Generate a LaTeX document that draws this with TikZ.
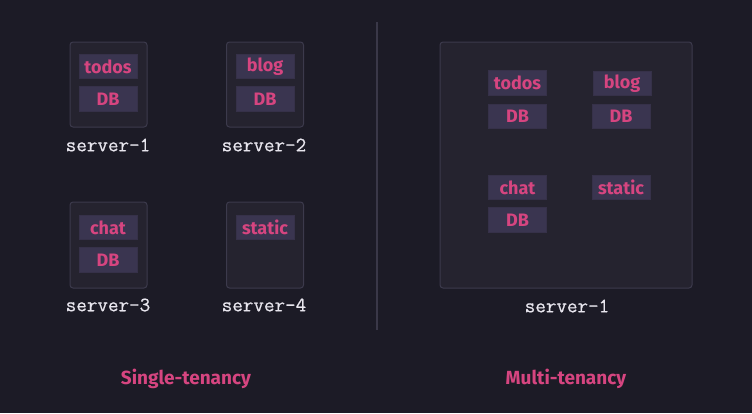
\documentclass[tikz,border=0pt]{standalone}
\usepackage{fontspec}
\setmainfont{Fira Sans}
\newfontfamily\srvfont{Latin Modern Mono}[FakeBold=0.6]
\definecolor{bgc}{HTML}{1C1B26}
\definecolor{srvfill}{HTML}{25232F}
\definecolor{srvline}{HTML}{3C3A4C}
\definecolor{appfill}{HTML}{3A3550}
\definecolor{pinkc}{HTML}{D64580}
\definecolor{labc}{HTML}{E8E6EE}
\definecolor{divc}{HTML}{3A3848}
\begin{document}
\begin{tikzpicture}[x=1pt,y=-1pt,
  server/.style={draw=srvline, line width=1pt, fill=srvfill, rounded corners=3pt, inner sep=0pt},
  app/.style={fill=appfill, draw=appfill!80!srvfill, line width=0.6pt, inner sep=0pt, minimum width=58pt, minimum height=24.5pt,
     text=pinkc, font=\fontsize{18}{18}\selectfont\bfseries},
  srvlabel/.style={text=labc, font=\fontsize{20.5}{21}\srvfont, inner sep=0pt},
  caption/.style={text=pinkc, font=\fontsize{19}{20}\selectfont\bfseries, inner sep=0pt}]
\fill[bgc] (0,0) rectangle (752,413);
\useasboundingbox (0,0) rectangle (752,413);
% single tenancy
\node[server, minimum width=77pt, minimum height=85pt] (s1) at (108.5,84.5) {};
\node[app] (s1a) at (108,66.5) {todos};
\node[app] (s1d) at (108,99) {DB};
\node[srvlabel] (s1l) at (108,145) {server-1};
\node[server, minimum width=77pt, minimum height=85pt] (s2) at (265,84.5) {};
\node[app] (s2a) at (265,66.5) {blog};
\node[app] (s2d) at (265,99) {DB};
\node[srvlabel] (s2l) at (264,145) {server-2};
\node[server, minimum width=77pt, minimum height=86pt] (s3) at (108.5,245) {};
\node[app] (s3a) at (108,227.5) {chat};
\node[app] (s3d) at (108,260) {DB};
\node[srvlabel] (s3l) at (108,305) {server-3};
\node[server, minimum width=77pt, minimum height=86pt] (s4) at (265,245) {};
\node[app] (s4a) at (265,227.5) {static};
\node[srvlabel] (s4l) at (264,305) {server-4};
% divider
\coordinate (dtop) at (377,22);
\coordinate (dbot) at (377,330);
\draw[divc, line width=2pt] (dtop) -- (dbot);
% multi tenancy
\node[server, minimum width=252pt, minimum height=246pt] (m) at (566,165) {};
\node[app] (ma) at (517.5,83) {todos};
\node[app] (mad) at (517.5,116.5) {DB};
\node[app] (mb) at (622,83.5) {blog};
\node[app] (mbd) at (621,116.5) {DB};
\node[app] (mc) at (517.5,187.5) {chat};
\node[app] (mcd) at (517.5,220) {DB};
\node[app] (ms) at (621,187.5) {static};
\node[srvlabel] (ml) at (567,306) {server-1};
% captions
\node[caption] (c1) at (186,379) {Single-tenancy};
\node[caption] (c2) at (566,379) {Multi-tenancy};
\end{tikzpicture}
\end{document}
